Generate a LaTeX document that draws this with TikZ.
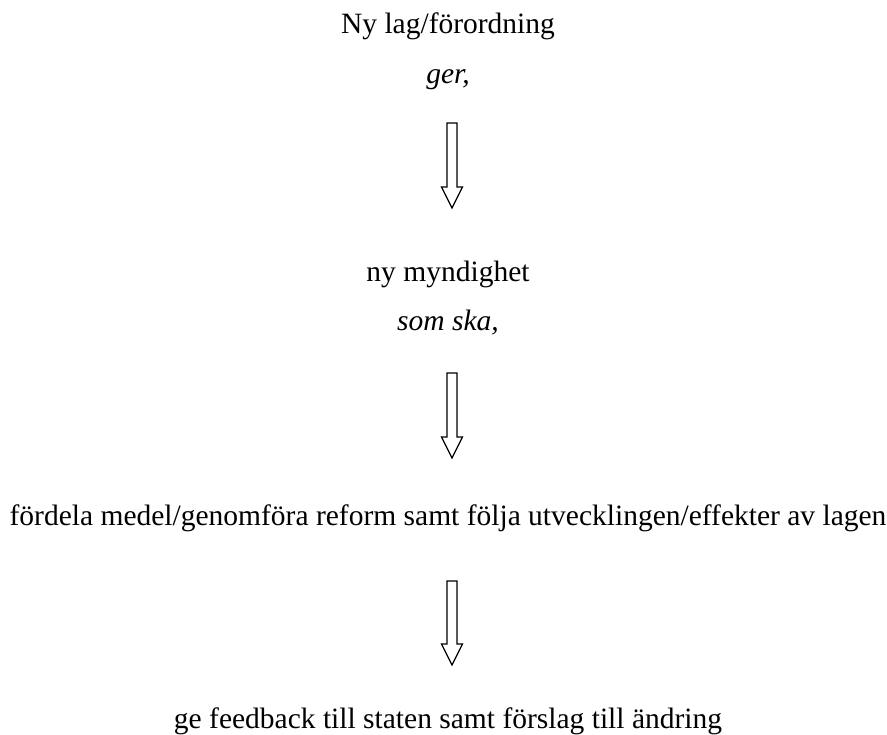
\documentclass[tikz,border=0pt]{standalone}
\usepackage{fontspec}
\setmainfont{Liberation Serif}[ItalicFont={Liberation Serif Italic},BoldFont={Liberation Serif Bold}]
\begin{document}
\begin{tikzpicture}[x=1bp,y=-1bp,
  txt/.style={anchor=base,inner sep=0pt,font=\fontsize{29.5bp}{34bp}\selectfont},
  itxt/.style={anchor=base,inner sep=0pt,font=\fontsize{29.5bp}{34bp}\selectfont\itshape},
  hollowarrow/.style={draw=black,line width=1.3bp,line join=miter,fill=white}]
\useasboundingbox (0,0) rectangle (887,735);
\node[txt] (l1) at (448,34) {Ny lag/förordning};
\node[itxt] (l2) at (448,84) {ger,};
\node[txt] (l3) at (448,281) {ny myndighet};
\node[itxt] (l4) at (448,330) {som ska,};
\node[txt] (l5) at (448,525) {fördela medel/genomföra reform samt följa utvecklingen/effekter av lagen};
\node[txt] (l6) at (448,728) {ge feedback till staten samt förslag till ändring};
\foreach \t/\b [count=\i] in {123/208, 373/458, 581/665}{
  \coordinate (a\i) at (452,\t);
  \draw[hollowarrow] (447,\t) -- (457,\t) -- (457,\b-21) -- (462.5,\b-21) -- (452,\b) -- (441.5,\b-21) -- (447,\b-21) -- cycle;
}
\end{tikzpicture}
\end{document}
